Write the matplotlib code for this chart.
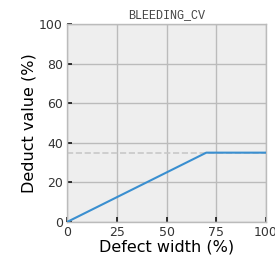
import matplotlib
matplotlib.use("Agg")
import matplotlib.pyplot as plt

title = "BLEEDING_CV"
x_vals = [0, 70, 100]
y_vals = [0, 35, 35]
threshold = 35
xticks = [0, 25, 50, 75, 100]
yticks = [0, 20, 40, 60, 80, 100]

fig = plt.figure(figsize=(2.75, 2.63), dpi=100)
ax = fig.add_axes([0.244, 0.156, 0.723, 0.753])
ax.set_facecolor("#eeeeee")
ax.plot(x_vals, y_vals, color="#3a8fd0", lw=1.5, zorder=3)
ax.axhline(threshold, color="#c8c8c8", ls="--", lw=1.2, zorder=2)
ax.set_xlim(0, 100)
ax.set_ylim(0, 100)
ax.set_xticks(xticks)
ax.set_yticks(yticks)
ax.grid(True, color="#bbbbbb", lw=1.0)
ax.set_axisbelow(True)
for s in ax.spines.values():
    s.set_color("#bbbbbb")
    s.set_linewidth(1.0)
ax.tick_params(direction="in", length=3.5, width=1.2, color="#111111",
               labelsize=9, labelcolor="#333333", pad=3)
ax.set_xlabel("Defect width (%)", fontsize=11.5, labelpad=0)
ax.set_ylabel("Deduct value (%)", fontsize=11.5, labelpad=2)
ax.set_title(title, fontsize=8.5, family="Liberation Mono", color="#444444", pad=4)
fig.savefig("out.png", dpi=100)
